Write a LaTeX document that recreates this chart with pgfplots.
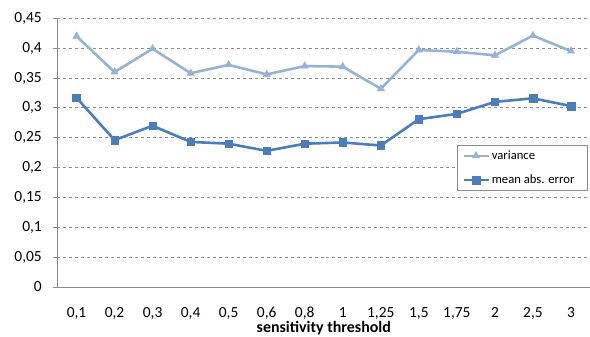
\documentclass[border=0pt]{standalone}
\usepackage{pgfplots}
\pgfplotsset{compat=1.18}
\usepackage{fontspec}
\setmainfont{Carlito}
\definecolor{varc}{HTML}{95B3D7}
\definecolor{maec}{HTML}{4A7EBB}
\definecolor{gridc}{HTML}{8C8C8C}
\begin{document}
\begin{tikzpicture}
\useasboundingbox (-57.5bp,-50bp) rectangle (532.5bp,287bp);
\begin{axis}[
  at={(0,0)}, anchor=south west,
  scale only axis,
  width=532.5bp, height=268.7bp,
  xmin=-0.5, xmax=13.5,
  ymin=0, ymax=0.45,
  xtick={0,...,13},
  xticklabels={{0,1},{0,2},{0,3},{0,4},{0,5},{0,6},{0,8},{1},{1,25},{1,5},{1,75},{2},{2,5},{3}},
  ytick={0,0.05,...,0.451},
  yticklabels={0,{0,05},{0,1},{0,15},{0,2},{0,25},{0,3},{0,35},{0,4},{0,45}},
  /pgf/number format/assume math mode=true,
  tick label style={font=\fontsize{15.5}{17}\selectfont, text=black, inner sep=0pt},
  xticklabel style={anchor=base, yshift=-26.5bp},
  yticklabel style={anchor=east, xshift=-11.5bp},
  x tick style={draw=none},
  major x tick style={draw=none},
  y tick style={draw=gridc, line width=0.8pt},
  major tick length=4bp,
  tick align=outside,
  ymajorgrids,
  grid style={gridc, dashed, line width=0.8pt},
  axis x line*=bottom,
  axis y line*=left,
  axis line style={gridc, line width=0.9pt, -},
  xlabel={\textbf{sensitivity threshold}},
  xlabel style={font=\fontsize{16}{18}\selectfont, at={(axis description cs:0.5,0)}, anchor=base, yshift=-45bp, inner sep=0pt},
  legend style={at={(0.75,0.527)}, anchor=north west, draw=gridc, line width=0.8pt,
    font=\fontsize{12.7}{14}\selectfont, inner xsep=5bp, inner ysep=3bp, row sep=10bp,
    cells={anchor=west}},
  legend image code/.code={\draw[mark repeat=2,mark phase=2] plot coordinates {(0bp,0bp) (12.5bp,0bp) (25bp,0bp)};},
  legend cell align=left,
]
\addplot[color=varc, line width=2.6pt, mark=triangle*, mark size=4.2bp, mark options={solid, fill=varc, draw=varc, line width=0.5pt}]
  coordinates {(0,0.420) (1,0.360) (2,0.399) (3,0.358) (4,0.372) (5,0.356) (6,0.370) (7,0.369) (8,0.332) (9,0.397) (10,0.394) (11,0.388) (12,0.421) (13,0.395)};
\addlegendentry{variance}
\addplot[color=maec, line width=2.6pt, mark=square*, mark size=3.8bp, mark options={solid, fill=maec, draw=maec, line width=0.5pt}]
  coordinates {(0,0.317) (1,0.246) (2,0.270) (3,0.243) (4,0.240) (5,0.228) (6,0.240) (7,0.242) (8,0.237) (9,0.281) (10,0.290) (11,0.310) (12,0.316) (13,0.303)};
\addlegendentry{mean abs. error\hspace*{6bp}}
\end{axis}
\end{tikzpicture}
\end{document}
